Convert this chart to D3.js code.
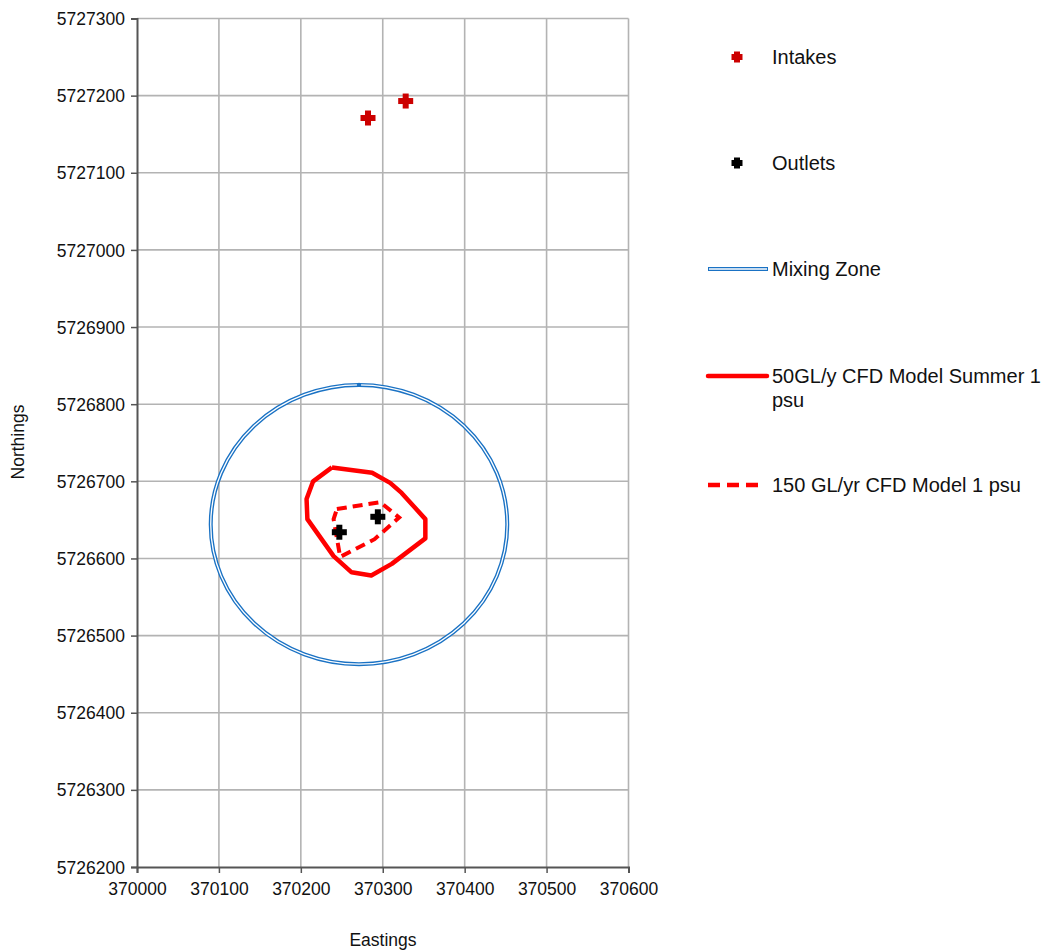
<!DOCTYPE html>
<html><head><meta charset="utf-8">
<script src="https://cdn.jsdelivr.net/npm/d3@7"></script>
<style>body{margin:0;background:#fff}svg{font-family:"Liberation Sans",Arial,sans-serif}</style>
</head><body><svg id="c" width="1049" height="951"></svg>
<script>
// ---- data ----
const xTicks = [370000,370100,370200,370300,370400,370500,370600];
const yTicks = [5726200,5726300,5726400,5726500,5726600,5726700,5726800,5726900,5727000,5727100,5727200,5727300];
const intakesE = [370282, 370328];
const intakesN = [5727171, 5727193];
const outletsE = [370247, 370294];
const outletsN = [5726634, 5726654];
const mixCenterE = 370271, mixCenterN = 5726644, mixRadius = 181;
const summerE = [370238,370287,370309,370323,370352,370352,370311,370286,370262,370240,370208,370207,370215,370238];
const summerN = [5726718,5726711,5726698,5726685,5726651,5726626,5726593,5726578,5726582,5726603,5726651,5726677,5726700,5726718];
const m150E = [370244,370297,370320,370290,370248,370240,370244];
const m150N = [5726664,5726673,5726653,5726625,5726602,5726651,5726664];
const legendLabels = ["Intakes","Outlets","Mixing Zone","50GL/y CFD Model Summer 1|psu","150 GL/yr CFD Model 1 psu"];

// ---- layout ----
const svg = d3.select("#c");
const L=137, R=628.5, T=18.5, B=867;
const x = d3.scaleLinear().domain([370000,370600]).range([L,R]);
const y = d3.scaleLinear().domain([5726200,5727300]).range([B,T]);

// grid
svg.append("g").selectAll("line").data(xTicks.slice(1)).join("line")
  .attr("x1",d=>x(d)).attr("x2",d=>x(d)).attr("y1",T).attr("y2",B)
  .attr("stroke","#b3b3b3").attr("stroke-width",1.6);
svg.append("g").selectAll("line").data(yTicks.slice(1)).join("line")
  .attr("y1",d=>y(d)).attr("y2",d=>y(d)).attr("x1",L).attr("x2",R)
  .attr("stroke","#b3b3b3").attr("stroke-width",1.6);

// axes
const xa = svg.append("g").attr("transform",`translate(0,${B})`)
  .call(d3.axisBottom(x).tickValues(xTicks).tickFormat(d3.format("d")).tickSize(6).tickPadding(6));
const ya = svg.append("g").attr("transform",`translate(${L},0)`)
  .call(d3.axisLeft(y).tickValues(yTicks).tickFormat(d3.format("d")).tickSize(6).tickPadding(6));
[xa,ya].forEach(a=>{
  a.select(".domain").attr("stroke","#555").attr("stroke-width",2);
  a.selectAll(".tick line").attr("stroke","#555").attr("stroke-width",1.5);
  a.selectAll("text").attr("font-size","17.5px").attr("fill","#111").attr("font-family","Liberation Sans, Arial, sans-serif");
});
xa.selectAll("text").attr("dy","0.9em");
ya.selectAll("text").attr("dy","0.35em");

svg.append("text").attr("x",383).attr("y",946).attr("text-anchor","middle")
  .attr("font-size","17.5px").attr("fill","#111").text("Eastings");
svg.append("text").attr("transform","translate(24,442) rotate(-90)").attr("text-anchor","middle")
  .attr("font-size","17.5px").attr("fill","#111").text("Northings");

// mixing zone (double line)
const mz = svg.append("g");
const rx = x(mixCenterE+mixRadius)-x(mixCenterE), ry = y(mixCenterN)-y(mixCenterN+mixRadius);
mz.append("ellipse").attr("cx",x(mixCenterE)).attr("cy",y(mixCenterN)).attr("rx",rx).attr("ry",ry)
  .attr("fill","none").attr("stroke","#1a72c4").attr("stroke-width",4);
mz.append("ellipse").attr("cx",x(mixCenterE)).attr("cy",y(mixCenterN)).attr("rx",rx).attr("ry",ry)
  .attr("fill","none").attr("stroke","#fff").attr("stroke-width",1.3);
mz.append("circle").attr("cx",x(mixCenterE)).attr("cy",y(mixCenterN+mixRadius)).attr("r",2.2).attr("fill","#1a72c4");

const line = d3.line().x(d=>x(d[0])).y(d=>y(d[1]));
svg.append("path").datum(summerE.map((e,i)=>[e,summerN[i]])).attr("d",line)
  .attr("fill","none").attr("stroke","#ff0000").attr("stroke-width",4.5).attr("stroke-linejoin","round");
svg.append("path").datum(m150E.map((e,i)=>[e,m150N[i]])).attr("d",line)
  .attr("fill","none").attr("stroke","#ff0000").attr("stroke-width",4).attr("stroke-dasharray","10,6");

// plus markers
function plus(g, cx, cy, s, w, col){
  g.append("rect").attr("x",cx-s/2).attr("y",cy-w/2).attr("width",s).attr("height",w).attr("fill",col);
  g.append("rect").attr("x",cx-w/2).attr("y",cy-s/2).attr("width",w).attr("height",s).attr("fill",col);
}
const mk = svg.append("g");
intakesE.forEach((e,i)=>plus(mk,x(e),y(intakesN[i]),15,6,"#cc0000"));
outletsE.forEach((e,i)=>plus(mk,x(e),y(outletsN[i]),15,6,"#000"));

// legend
const lg = svg.append("g").attr("font-size","20px").attr("fill","#111");
const ly = [57,163,269,376,485];
plus(lg,737,ly[0],11,6,"#cc0000");
plus(lg,737,ly[1],11,6,"#000");
lg.append("line").attr("x1",708).attr("x2",768).attr("y1",ly[2]).attr("y2",ly[2]).attr("stroke","#1a72c4").attr("stroke-width",4);
lg.append("line").attr("x1",709).attr("x2",767).attr("y1",ly[2]).attr("y2",ly[2]).attr("stroke","#fff").attr("stroke-width",1.3);
lg.append("line").attr("x1",708).attr("x2",767).attr("y1",ly[3]).attr("y2",ly[3]).attr("stroke","#ff0000").attr("stroke-width",4.5).attr("stroke-linecap","round");
lg.append("line").attr("x1",708).attr("x2",760).attr("y1",ly[4]).attr("y2",ly[4]).attr("stroke","#ff0000").attr("stroke-width",4.5).attr("stroke-dasharray","12,7");
legendLabels.forEach((t,i)=>{
  const parts=t.split("|");
  const tx=lg.append("text").attr("x",772).attr("y",ly[i]).attr("dy","0.35em");
  parts.forEach((p,j)=>tx.append("tspan").attr("x",772).attr("dy",j===0?"0.35em":"1.2em").text(p));
});
</script></body></html>
